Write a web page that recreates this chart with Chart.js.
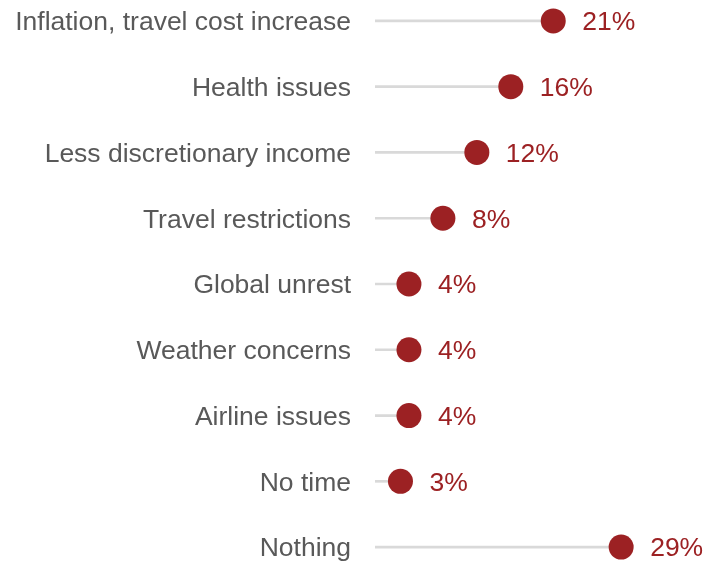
<!DOCTYPE html>
<html>
<head>
<meta charset="utf-8">
<script src="https://cdn.jsdelivr.net/npm/chart.js@4"></script>
<style>
    html, body { margin: 0; padding: 0; background: #ffffff; overflow: hidden; }
    #wrap { position: absolute; left: 0; top: -12px; width: 723px; height: 592px; }
</style>
</head>
<body>
<div id="wrap"><canvas id="lollipop"></canvas></div>
<script>
// Reasons that keep people from travelling (share of respondents)
const reasons = [
    'Inflation, travel cost increase',
    'Health issues',
    'Less discretionary income',
    'Travel restrictions',
    'Global unrest',
    'Weather concerns',
    'Airline issues',
    'No time',
    'Nothing'
];
const shares = [21, 16, 12, 8, 4, 4, 4, 3, 29];

const DOT_RED = '#9c2123';
const STEM_GRAY = '#d9d9d9';
const LABEL_GRAY = '#595959';
const FONT_FAMILY = '"Liberation Sans", Arial, sans-serif';

// Value labels to the right of each dot
const valueLabels = {
    id: 'valueLabels',
    afterDatasetsDraw(chart) {
        const ctx = chart.ctx;
        const meta = chart.getDatasetMeta(1);
        ctx.save();
        ctx.font = '26.5px ' + FONT_FAMILY;
        ctx.fillStyle = DOT_RED;
        ctx.textAlign = 'left';
        ctx.textBaseline = 'middle';
        meta.data.forEach((pt, i) => {
            ctx.fillText(shares[i] + '%', pt.x + 29, pt.y + 2);
        });
        ctx.restore();
    }
};

new Chart(document.getElementById('lollipop'), {
    data: {
        labels: reasons,
        datasets: [
            {
                // thin gray stems
                type: 'bar',
                order: 2,
                data: shares,
                backgroundColor: STEM_GRAY,
                barThickness: 2,
                borderWidth: 0
            },
            {
                // red dots on top of the stems
                type: 'line',
                order: 1,
                data: shares,
                showLine: false,
                pointRadius: 12.5,
                pointBackgroundColor: DOT_RED,
                pointBorderWidth: 0
            }
        ]
    },
    options: {
        indexAxis: 'y',
        responsive: true,
        maintainAspectRatio: false,
        animation: false,
        layout: { padding: 0, autoPadding: false },
        plugins: {
            legend: { display: false },
            tooltip: { enabled: false }
        },
        scales: {
            x: {
                display: false,
                min: 0,
                max: 41
            },
            y: {
                offset: true,
                grid: { display: false, drawTicks: false },
                border: { display: false },
                afterFit(scale) {
                    scale.width = 375;
                    scale.paddingTop = 0;
                    scale.paddingBottom = 0;
                },
                ticks: {
                    padding: 24,
                    labelOffset: 2,
                    color: LABEL_GRAY,
                    font: { family: FONT_FAMILY, size: 26.5 },
                    autoSkip: false
                }
            }
        }
    },
    plugins: [valueLabels]
});
</script>
</body>
</html>
